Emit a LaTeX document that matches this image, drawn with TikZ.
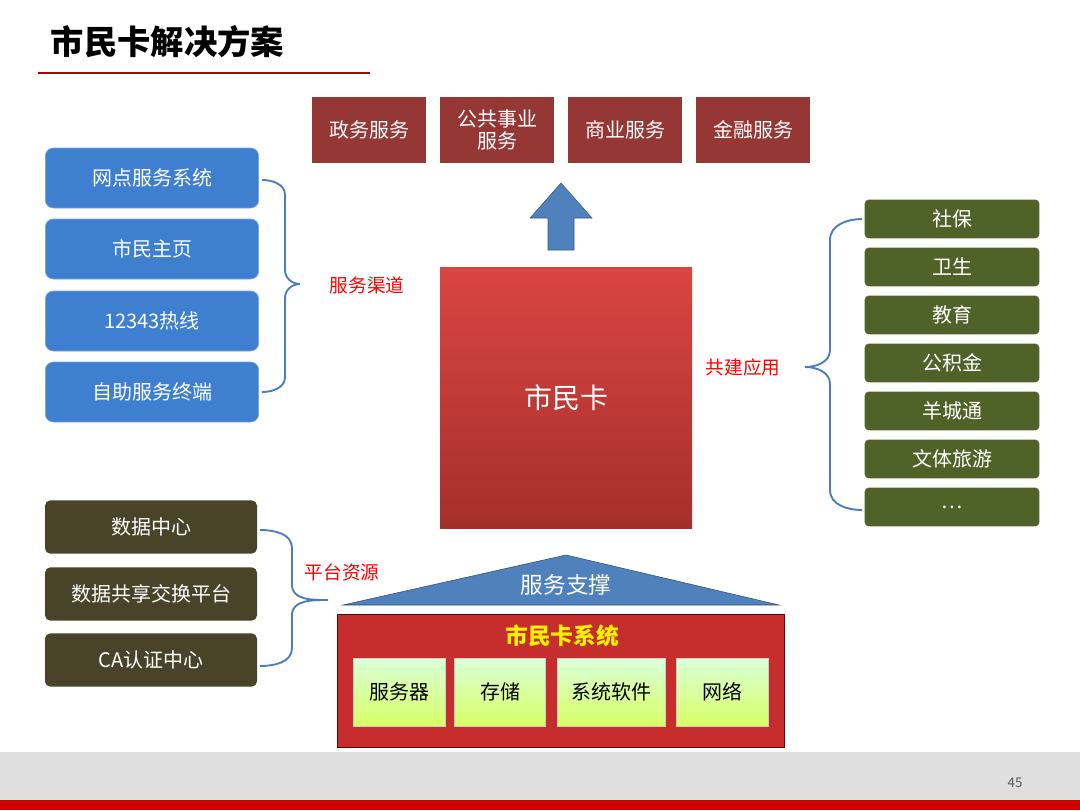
\documentclass[tikz,border=0pt]{standalone}
\usepackage{fontspec}
\setmainfont{Noto Sans CJK SC}
\definecolor{darkred}{HTML}{953735}
\definecolor{chanblue}{HTML}{3F7FD0}
\definecolor{appgreen}{HTML}{4F6228}
\definecolor{resolive}{HTML}{494429}
\definecolor{supblue}{HTML}{4F81BD}
\definecolor{sysred}{HTML}{C62E2E}
\definecolor{brblue}{HTML}{4A7EBB}
\definecolor{cardtop}{HTML}{DA4542}
\definecolor{cardbot}{HTML}{A52F2C}
\tikzset{
  svc/.style={fill=darkred, text=white, minimum width=85.5pt, minimum height=49pt, align=center, font=\fontsize{15}{16}\selectfont},
  chan/.style={fill=chanblue, draw=chanblue!70!white, rounded corners=6pt, text=white, minimum width=160pt, minimum height=45pt, font=\fontsize{15}{16}\selectfont},
  app/.style={fill=appgreen, rounded corners=3pt, text=white, minimum width=131pt, minimum height=29pt, font=\fontsize{15}{16}\selectfont},
  res/.style={fill=resolive, rounded corners=4pt, text=white, minimum width=159pt, minimum height=40pt, font=\fontsize{15}{16}\selectfont},
  hw/.style={top color=white!85!green, bottom color=green!25!yellow!60!white, draw=gray!40, text=black, minimum height=51pt, font=\fontsize{15}{16}\selectfont},
  brace/.style={draw=brblue, line width=1.4pt},
  tag/.style={text=red, font=\fontsize{14}{16}\selectfont}
}
\begin{document}
\begin{tikzpicture}[x=0.75pt, y=-0.75pt]
\useasboundingbox (0,0) rectangle (1080,810);
% title
\node[anchor=west, font=\fontsize{25}{28}\bfseries] (title) at (46,42) {市民卡解决方案};
\draw[red!70!black, line width=1.5pt] (38,73) -- (370,73);
% services on top
\node[svc] (gov) at (369,130) {政务服务};
\node[svc] (pub) at (497,130) {公共事业\\服务};
\node[svc] (biz) at (625,130) {商业服务};
\node[svc] (fin) at (753,130) {金融服务};
\draw[fill=supblue, draw=supblue!70!black] (548,250) -- (548,218) -- (530,218) -- (561,183) -- (592,218) -- (574,218) -- (574,250) -- cycle;
% card
\node[top color=cardtop, bottom color=cardbot, minimum width=189pt, minimum height=196pt, text=white, font=\fontsize{21}{23}\selectfont] (card) at (566,398) {市民卡};
% channels
\foreach \name/\txt/\yy in {c1/网点服务系统/178, c2/市民主页/249, c3/12343热线/321, c4/自助服务终端/392}
  \node[chan] (\name) at (152,\yy) {\txt};
\node[tag, anchor=west] (chtag) at (325,285) {服务渠道};
% apps
\foreach \name/\txt/\yy in {a1/社保/219, a2/卫生/267, a3/教育/315, a4/公积金/363, a5/羊城通/411, a6/文体旅游/459, a7/{\ldots}/507}
  \node[app] (\name) at (952,\yy) {\txt};
\node[tag] (aptag) at (743,367) {共建应用};
% resources
\foreach \name/\txt/\yy in {r1/数据中心/527, r2/数据共享交换平台/594, r3/CA认证中心/660}
  \node[res] (\name) at (151,\yy) {\txt};
\node[tag, anchor=west] (rstag) at (300,572) {平台资源};
% braces
\draw[brace] (262,180) to[out=0,in=90] (285,195) -- (285,270) to[out=-90,in=180] (300,284) to[out=180,in=90] (285,298) -- (285,377) to[out=-90,in=0] (262,392);
\draw[brace] (862,219) to[out=180,in=90] (830,240) -- (830,350) to[out=-90,in=0] (805,367) to[out=0,in=90] (830,384) -- (830,490) to[out=-90,in=180] (862,510);
\draw[brace] (260,530) to[out=0,in=90] (292,548) -- (292,585) to[out=-90,in=180] (328,600) to[out=180,in=90] (292,615) -- (292,648) to[out=-90,in=0] (260,666);
% support
\draw[fill=supblue, draw=supblue!60!black] (343,605) -- (779,605) -- (566,555) -- cycle;
\node[text=white, font=\fontsize{17}{19}\selectfont] (sup) at (566,585) {服务支撑};
\node[fill=sysred, draw=red!40!black, minimum width=335pt, minimum height=100pt] (sys) at (561,681) {};
\node[text=yellow, font=\fontsize{17}{19}\bfseries] (systitle) at (562,636) {市民卡系统};
\node[hw, minimum width=69pt] (h1) at (399,692) {服务器};
\node[hw, minimum width=68pt] (h2) at (500,692) {存储};
\node[hw, minimum width=81pt] (h3) at (611,692) {系统软件};
\node[hw, minimum width=69pt] (h4) at (722,692) {网络};
% footer
\fill[gray!25] (0,752) rectangle (1080,800);
\fill[red!80!black] (0,800) rectangle (1080,810);
\node[text=gray!70!black, font=\fontsize{10}{12}\selectfont] (page) at (1015,783) {45};
\end{tikzpicture}
\end{document}
